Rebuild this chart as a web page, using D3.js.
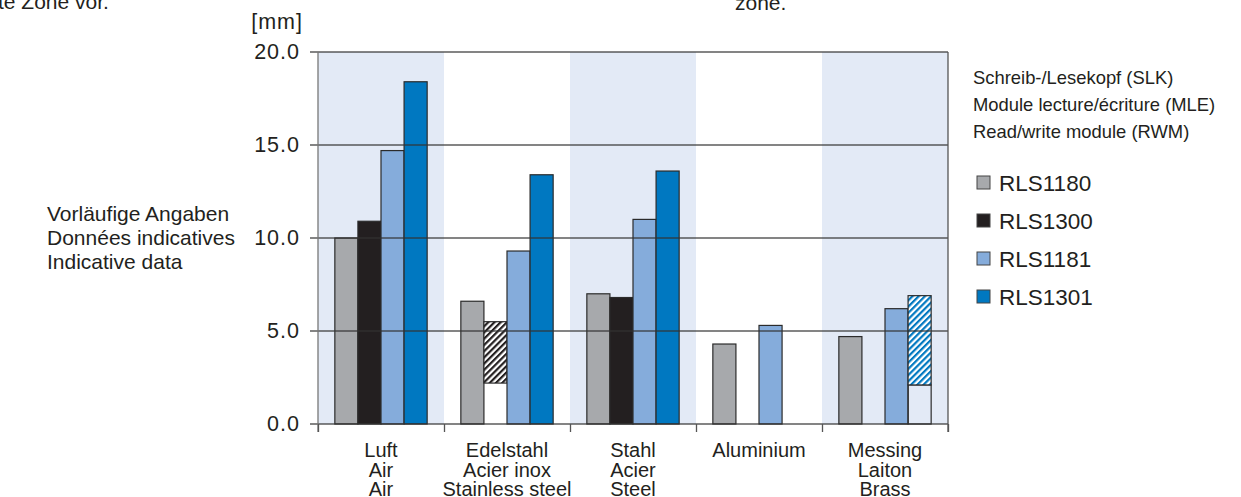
<!DOCTYPE html>
<html>
<head>
<meta charset="utf-8">
<script src="https://cdn.jsdelivr.net/npm/d3@7"></script>
<style>
body{margin:0;background:#fff;}
text{font-family:"Liberation Sans",Arial,Helvetica,sans-serif;fill:#231f20;}
</style>
</head>
<body>
<script>
// categories (three languages)
var catDe=["Luft","Edelstahl","Stahl","Aluminium","Messing"];
var catFr=["Air","Acier inox","Acier","","Laiton"];
var catEn=["Air","Stainless steel","Steel","","Brass"];
var seriesNames=["RLS1180","RLS1300","RLS1181","RLS1301"];
var seriesColors=["#a7a9ac","#231f20","#85acdb","#0078c1"];
// sensing distance in mm
var rls1180=[10.0,6.6,7.0,4.3,4.7];
var rls1300=[10.9,5.5,6.8,null,null];
var rls1181=[14.7,9.3,11.0,5.3,6.2];
var rls1301=[18.4,13.4,13.6,null,6.9];
// lower end of hatched ranges
var rls1300Low=[null,2.2,null,null,null];
var rls1301Low=[null,null,null,null,2.1];
var yTicks=[0,5,10,15,20];
var legendHead=["Schreib-/Lesekopf (SLK)","Module lecture/écriture (MLE)","Read/write module (RWM)"];
var noteLines=["Vorläufige Angaben","Données indicatives","Indicative data"];

var W=1241,H=497;
var m={l:318,r:948,t:52,b:424};
var svg=d3.select("body").append("svg").attr("width",W).attr("height",H);

var defs=svg.append("defs");
function hatch(id,col){
    var p=defs.append("pattern").attr("id",id).attr("patternUnits","userSpaceOnUse")
        .attr("width",4.4).attr("height",4.4).attr("patternTransform","rotate(45)");
    p.append("rect").attr("width",4.4).attr("height",4.4).attr("fill","#fff");
    p.append("rect").attr("width",2.2).attr("height",4.4).attr("fill",col);
}
hatch("hBlack","#231f20");
hatch("hBlue","#0078c1");

var x0=d3.scaleBand().domain(d3.range(catDe.length)).range([m.l,m.r]).paddingInner(0).paddingOuter(0);
var x1=d3.scaleBand().domain(seriesNames).range([0,x0.bandwidth()]).paddingInner(0).paddingOuter(0.73);
var y=d3.scaleLinear().domain([0,20]).range([m.b,m.t]);

// shaded bands
svg.append("g").selectAll("rect").data([0,2,4]).enter().append("rect")
    .attr("x",function(d){return x0(d);}).attr("y",m.t)
    .attr("width",x0.bandwidth()).attr("height",m.b-m.t)
    .attr("fill","#e3eaf6");

var values=[rls1180,rls1300,rls1181,rls1301];
var lows=[null,rls1300Low,null,rls1301Low];
var bars=[];
values.forEach(function(arr,s){
    arr.forEach(function(v,c){
        if(v===null)return;
        var low=lows[s]?lows[s][c]:null;
        bars.push({s:s,c:c,v:v,low:low});
    });
});
var gb=svg.append("g");
bars.forEach(function(d){
    var bx=x0(d.c)+x1(seriesNames[d.s]);
    if(d.low===null){
        gb.append("rect").attr("x",bx).attr("y",y(d.v)).attr("width",x1.bandwidth()).attr("height",y(0)-y(d.v))
            .attr("fill",seriesColors[d.s]).attr("stroke","#2b2b2b").attr("stroke-width",1.2);
    }else{
        if(d.s===3){
            gb.append("rect").attr("x",bx).attr("y",y(d.low)).attr("width",x1.bandwidth()).attr("height",y(0)-y(d.low))
                .attr("fill","none").attr("stroke","#2b2b2b").attr("stroke-width",1.2);
        }
        gb.append("rect").attr("x",bx).attr("y",y(d.v)).attr("width",x1.bandwidth()).attr("height",y(d.low)-y(d.v))
            .attr("fill",d.s===1?"url(#hBlack)":"url(#hBlue)").attr("stroke","#2b2b2b").attr("stroke-width",1.2);
    }
});

// gridlines on top
svg.append("g").selectAll("line").data(yTicks).enter().append("line")
    .attr("x1",m.l-8).attr("x2",m.r).attr("y1",function(d){return y(d);}).attr("y2",function(d){return y(d);})
    .attr("stroke","#333").attr("stroke-opacity",0.8).attr("stroke-width",1.3);
svg.append("line").attr("x1",m.l).attr("x2",m.l).attr("y1",m.t).attr("y2",m.b+8).attr("stroke","#777").attr("stroke-width",1.3);
svg.append("line").attr("x1",m.r).attr("x2",m.r).attr("y1",m.t).attr("y2",m.b+8).attr("stroke","#555").attr("stroke-width",1.3);

// y axis labels
var ya=svg.append("g").attr("transform","translate("+m.l+",0)")
    .call(d3.axisLeft(y).tickValues(yTicks).tickFormat(d3.format(".1f")).tickSize(0).tickPadding(18));
ya.select(".domain").remove();
ya.selectAll("text").attr("font-size",21.5).attr("font-family","Liberation Sans, Arial, sans-serif").attr("fill","#231f20").attr("letter-spacing",1);

// bottom ticks
var xb=d3.scaleLinear().domain([0,catDe.length]).range([m.l,m.r]);
var xa=svg.append("g").attr("transform","translate(0,"+m.b+")")
    .call(d3.axisBottom(xb).tickValues(d3.range(catDe.length+1)).tickFormat("").tickSize(8));
xa.select(".domain").remove();
xa.selectAll("line").attr("stroke","#555").attr("stroke-width",1.3);

// category labels
var cl=svg.append("g").selectAll("text").data(catDe).enter().append("text")
    .attr("x",function(d,i){return x0(i)+x0.bandwidth()/2;}).attr("y",457)
    .attr("text-anchor","middle").attr("font-size",20);
cl.each(function(d,i){
    var t=d3.select(this);
    [catDe[i],catFr[i],catEn[i]].forEach(function(s,k){
        if(!s)return;
        t.append("tspan").attr("x",x0(i)+x0.bandwidth()/2).attr("y",457+k*19.5).text(s);
    });
});

svg.append("text").attr("x",303).attr("y",29).attr("text-anchor","end").attr("font-size",21.5).attr("letter-spacing",1).text("[mm]");

// note
svg.append("g").selectAll("text").data(noteLines).enter().append("text")
    .attr("x",47).attr("y",function(d,i){return 221+i*24;}).attr("font-size",21).text(function(d){return d;});

// legend
svg.append("g").selectAll("text").data(legendHead).enter().append("text")
    .attr("x",973).attr("y",function(d,i){return 84+i*27;}).attr("font-size",18.4).text(function(d){return d;});
var lg=svg.append("g").selectAll("g").data(seriesNames).enter().append("g")
    .attr("transform",function(d,i){return "translate(977,"+(176+i*38)+")";});
lg.append("rect").attr("width",13).attr("height",13)
    .attr("fill",function(d,i){return seriesColors[i];}).attr("stroke","#444").attr("stroke-width",1);
lg.append("text").attr("x",22).attr("y",15).attr("font-size",22.5).text(function(d){return d;});

// clipped text from the page above
svg.append("text").attr("x",-2).attr("y",9).attr("font-size",21).text("te Zone vor.");
svg.append("text").attr("x",735).attr("y",10).attr("font-size",21).text("zone.");
</script>
</body>
</html>
